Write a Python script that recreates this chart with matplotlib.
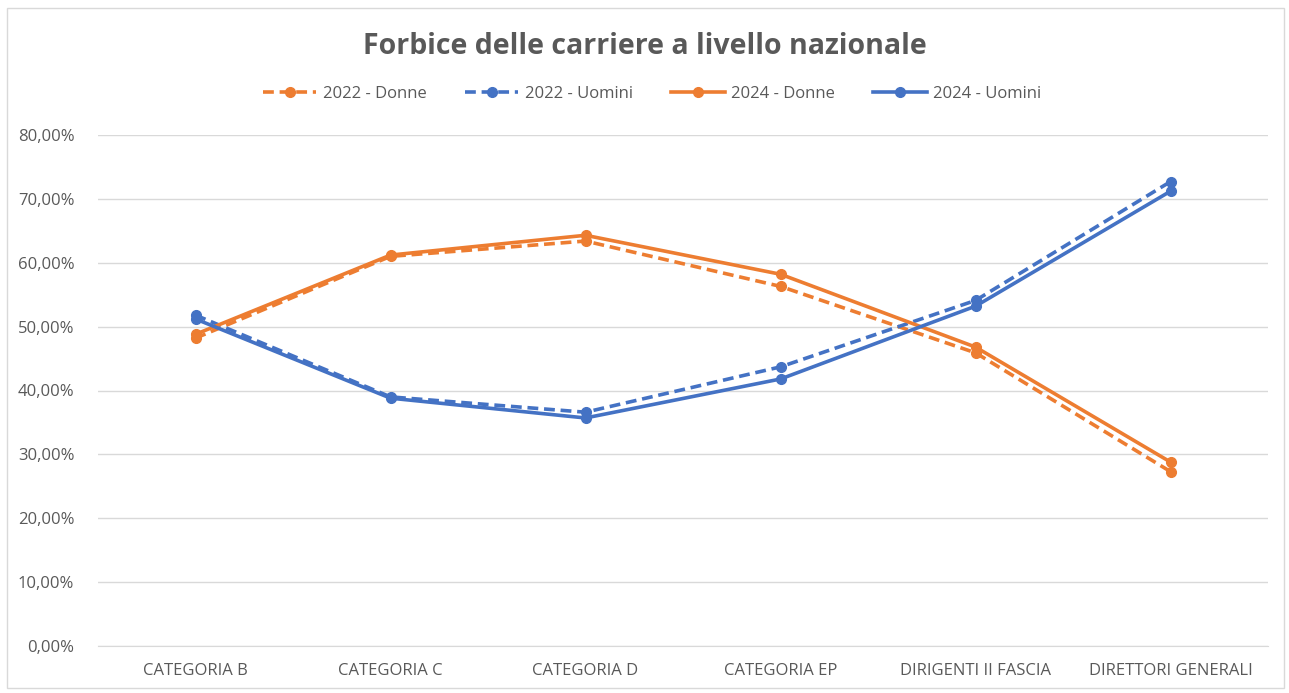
import matplotlib
matplotlib.use("Agg")
import matplotlib.pyplot as plt
from matplotlib.ticker import FuncFormatter
from matplotlib.patches import Rectangle

categories = ["CATEGORIA B", "CATEGORIA C", "CATEGORIA D", "CATEGORIA EP",
              "DIRIGENTI II FASCIA", "DIRETTORI GENERALI"]
donne_2022 = [48.2, 61.0, 63.4, 56.3, 45.9, 27.3]
uomini_2022 = [51.8, 39.0, 36.6, 43.7, 54.1, 72.7]
donne_2024 = [48.8, 61.2, 64.3, 58.2, 46.8, 28.8]
uomini_2024 = [51.2, 38.8, 35.7, 41.8, 53.2, 71.2]
y_ticks = [0, 10, 20, 30, 40, 50, 60, 70, 80]

plt.rcParams['font.family'] = ['Open Sans', 'DejaVu Sans']
orange = "#ED7D31"
blue = "#4472C4"
gray = "#595959"

fig = plt.figure(figsize=(12.89, 6.93), dpi=100)
ax = fig.add_axes([98/1289, 47/693, 1170/1289, (646-135)/693])

x = list(range(len(categories)))
lw = 2.6
ms = 7
ax.plot(x, donne_2022, color=orange, lw=lw, ls=(0, (3, 1.6)), marker='o', ms=ms, label="2022 - Donne", zorder=3)
ax.plot(x, uomini_2022, color=blue, lw=lw, ls=(0, (3, 1.6)), marker='o', ms=ms, label="2022 - Uomini", zorder=3)
ax.plot(x, donne_2024, color=orange, lw=lw, marker='o', ms=ms, label="2024 - Donne", zorder=4)
ax.plot(x, uomini_2024, color=blue, lw=lw, marker='o', ms=ms, label="2024 - Uomini", zorder=4)

ax.set_xlim(-0.5, len(categories) - 0.5)
ax.set_ylim(0, 80)
ax.set_yticks(y_ticks)
ax.yaxis.set_major_formatter(FuncFormatter(lambda v, p: f"{v:.2f}%".replace('.', ',')))
ax.set_xticks(x)
ax.set_xticklabels(categories)
ax.grid(axis='y', color="#D9D9D9", lw=1)
ax.set_axisbelow(True)
for s in ['top', 'right', 'left']:
    ax.spines[s].set_visible(False)
ax.spines['bottom'].set_color("#D9D9D9")
ax.tick_params(axis='both', length=0, colors=gray, labelsize=12)
ax.tick_params(axis='y', pad=17)
ax.tick_params(axis='x', pad=12)

fig.text(0.5, 1 - 46/693, "Forbice delle carriere a livello nazionale", ha='center', va='center',
         fontsize=20.5, fontweight='bold', color=gray)
leg = fig.legend(loc='center', bbox_to_anchor=(0.506, 1 - 94/693), ncol=4, frameon=False,
                 fontsize=12, handlelength=3.2, columnspacing=2.3, handletextpad=0.4)
for t in leg.get_texts():
    t.set_color(gray)

fig.patches.append(Rectangle((7/1289, 5/693), 1277/1289, 680/693, transform=fig.transFigure,
                             fill=False, edgecolor="#D9D9D9", lw=1))
fig.savefig("out.png", dpi=100, facecolor='white')
